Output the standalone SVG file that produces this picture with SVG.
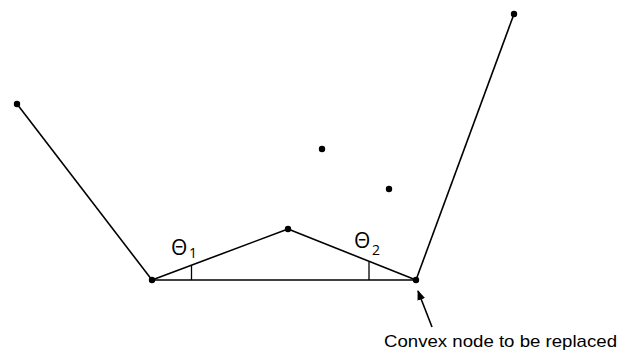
<svg xmlns="http://www.w3.org/2000/svg" width="634" height="354" viewBox="0 0 634 354">
<style>
.ln{stroke:#000;stroke-width:1.6;fill:none}
.tk{stroke:#000;stroke-width:1.3;fill:none}
.pt{fill:#000}
.lb{font-family:"Liberation Sans",Arial,sans-serif;fill:#000}
.th{font-family:"Open Sans","Liberation Sans",sans-serif;fill:#000;font-size:21px}
.sb{font-size:14px}
</style>
<defs>
<marker id="ah" markerWidth="10" markerHeight="8" refX="9" refY="4" orient="auto" markerUnits="userSpaceOnUse">
<path d="M0,0 L10,4 L0,8 Z" fill="#000"/>
</marker>
</defs>
<rect width="634" height="354" fill="#fff"/>
<g id="connectors">
<line class="ln" x1="17" y1="104" x2="152" y2="280"/>
<line class="ln" x1="152" y1="280" x2="288" y2="229"/>
<line class="ln" x1="288" y1="229" x2="416" y2="280"/>
<line class="ln" x1="152" y1="280" x2="416" y2="280"/>
<line class="ln" x1="416" y1="280" x2="514" y2="14"/>
<line class="tk" x1="191.5" y1="265.5" x2="191.5" y2="280"/>
<line class="tk" x1="369" y1="262" x2="369" y2="280"/>
<line class="ln" x1="432" y1="327" x2="418" y2="291" marker-end="url(#ah)"/>
</g>
<g id="n-left"><circle class="pt" cx="17" cy="104" r="3.2"/></g>
<g id="n-b"><circle class="pt" cx="152" cy="280" r="3.2"/></g>
<g id="n-c"><circle class="pt" cx="288" cy="229" r="3.2"/></g>
<g id="n-d"><circle class="pt" cx="416" cy="280" r="3.2"/></g>
<g id="n-e"><circle class="pt" cx="514" cy="14" r="3.2"/></g>
<g id="n-f"><circle class="pt" cx="322" cy="149" r="3.2"/></g>
<g id="n-g"><circle class="pt" cx="389" cy="189" r="3.2"/></g>
<g id="theta1"><text class="th" x="171" y="255">Θ<tspan class="sb" x="189" dy="3">1</tspan></text></g>
<g id="theta2"><text class="th" x="354" y="248">Θ<tspan class="sb" x="372" dy="7">2</tspan></text></g>
<g id="label"><text class="lb" x="384" y="347" font-size="17" textLength="233" lengthAdjust="spacingAndGlyphs">Convex node to be replaced</text></g>
</svg>
